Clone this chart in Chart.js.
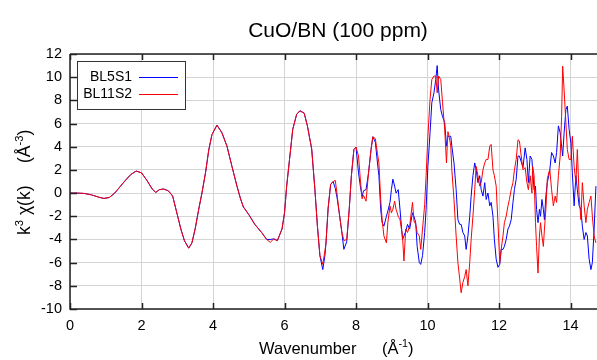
<!DOCTYPE html>
<html lang="en">
<head>
<meta charset="UTF-8">
<title>CuO/BN (100 ppm)</title>
<script src="https://cdn.jsdelivr.net/npm/chart.js@4.4.1/dist/chart.umd.min.js"></script>
<style>
  html, body { margin: 0; padding: 0; background: #fff; }
  #wrap { width: 597px; height: 360px; }
</style>
</head>
<body>
<div id="wrap"><canvas id="myChart" width="597" height="360"></canvas></div>
<script>
// wavenumber k (1/A)
var kValues = [
  0, 0.2, 0.4, 0.6, 0.8, 0.95, 1.1, 1.25, 1.4, 1.55, 1.7, 1.85, 2.0, 2.15, 2.3, 2.4, 2.5, 2.62, 2.75, 2.87,
  3.0, 3.1, 3.2, 3.32, 3.41, 3.5, 3.6, 3.69, 3.79, 3.88, 3.97, 4.11, 4.25, 4.39, 4.53, 4.67, 4.77, 4.85, 5.0, 5.17,
  5.36, 5.5, 5.6, 5.7, 5.8, 5.93, 6.0, 6.06, 6.14, 6.23, 6.34, 6.43, 6.55, 6.64, 6.76, 6.85, 6.92, 6.99, 7.07, 7.13,
  7.16, 7.22, 7.29, 7.36, 7.42, 7.47, 7.53, 7.6, 7.66, 7.74, 7.81, 7.87, 7.94, 8.0, 8.07, 8.12, 8.17, 8.21, 8.28, 8.35,
  8.42, 8.47, 8.54, 8.6, 8.64, 8.69, 8.73, 8.78, 8.85, 8.89, 8.95, 8.99, 9.03, 9.08, 9.12, 9.18, 9.23, 9.3, 9.34, 9.39,
  9.44, 9.5, 9.58, 9.62, 9.67, 9.71, 9.77, 9.81, 9.86, 9.92, 9.96, 10.01, 10.07, 10.12, 10.18, 10.23, 10.27, 10.31, 10.37, 10.42,
  10.48, 10.53, 10.57, 10.61, 10.65, 10.68, 10.74, 10.8, 10.85, 10.9, 10.94, 10.99, 11.04, 11.08, 11.13, 11.18, 11.22, 11.27, 11.32, 11.36,
  11.41, 11.46, 11.5, 11.55, 11.6, 11.64, 11.69, 11.74, 11.78, 11.83, 11.87, 11.92, 11.97, 12.02, 12.06, 12.11, 12.15, 12.2, 12.25, 12.29,
  12.34, 12.39, 12.43, 12.48, 12.53, 12.57, 12.62, 12.67, 12.73, 12.78, 12.82, 12.87, 12.92, 12.94, 12.98, 13.02, 13.05, 13.09, 13.13, 13.16,
  13.2, 13.24, 13.27, 13.31, 13.35, 13.39, 13.42, 13.47, 13.52, 13.57, 13.61, 13.66, 13.71, 13.75, 13.78, 13.82, 13.87, 13.91, 13.96, 14.01,
  14.05, 14.1, 14.15, 14.19, 14.24, 14.29, 14.33, 14.38, 14.43, 14.47, 14.52, 14.57, 14.61, 14.66, 14.71
];

// k^3 chi(k), blue series
var bl5s1 = [
  0, 0, -0.03, -0.15, -0.35, -0.46, -0.38, 0.0, 0.55, 1.1, 1.6, 1.9, 1.75, 1.1, 0.35, 0.06, 0.3, 0.35, 0.2, -0.25,
  -1.85, -3.1, -4.1, -4.75, -4.3, -3.1, -1.4, 0.0, 1.75, 3.7, 5.05, 5.86, 5.2, 4.05, 2.3, 0.6, -0.5, -1.2, -1.85, -2.7,
  -3.4, -4.0, -4.0, -3.95, -4.1, -3.1, -1.7, 0.6, 2.9, 5.5, 6.8, 7.1, 6.9, 5.8, 3.8, 0.3, -2.85, -5.4, -6.6, -5.4,
  -4.3, -1.3, 0.75, 1.0, 0.4, -0.4, -1.7, -3.3, -4.85, -4.2, -1.4, 1.5, 3.76, 3.97, 1.75, 0.6, -0.3, 0.2, 0.3, 1.75,
  3.76, 4.86, 4.4, 2.6, 1.5, -1.4, -2.55, -2.85, -2.0, -1.55, -0.8, 0.3, 1.2, 0.6, 0.0, 0.3, -1.4, -4.0, -3.7, -3.3,
  -2.7, -3.1, -1.7, -2.0, -2.55, -4.6, -6.0, -6.15, -5.4, -3.4, -1.4, 2.3, 5.2, 7.8, 8.65, 9.8, 11.0, 8.9, 7.2, 6.6,
  6.1, 4.05, 4.9, 4.9, 4.9, 4.05, 2.6, 0.3, -2.3, -2.7, -2.7, -3.4, -3.7, -4.86, -3.7, -2.0, -0.26, 1.5, 2.6, 2.0,
  0.9, 1.5, 0.3, -0.26, 0.9, -0.55, 0.0, -1.1, -0.8, -2.0, -4.0, -5.7, -6.4, -6.15, -4.86, -4.86, -4.6, -4.0, -3.1, -2.85,
  -2.3, -0.8, 0.3, 1.2, 3.2, 3.2, 2.7, 2.2, 3.9, 2.9, 0.9, 3.2, 2.9, 2.0, 0.3, 0.6, -1.4, -2.55, -1.4, -2.0,
  -0.55, -1.4, -2.3, -0.26, 0.9, 1.5, 2.0, 3.5, 3.2, 2.6, 3.5, 5.8, 5.2, 4.05, 3.2, 5.2, 7.2, 7.5, 5.5, 4.3,
  1.75, -1.1, 1.5, 0.3, -1.1, -1.4, -2.85, -4.0, -3.4, -3.7, -5.7, -6.6, -6.0, -3.1, 0.6
];

// k^3 chi(k), red series
var bl11s2 = [
  0, 0, -0.03, -0.15, -0.35, -0.46, -0.38, 0.0, 0.55, 1.1, 1.6, 1.9, 1.75, 1.1, 0.35, 0.06, 0.3, 0.35, 0.2, -0.25,
  -1.85, -3.1, -4.1, -4.75, -4.3, -3.1, -1.4, 0.0, 1.75, 3.7, 5.05, 5.86, 5.2, 4.05, 2.3, 0.6, -0.5, -1.2, -1.85, -2.7,
  -3.4, -4.0, -4.25, -3.95, -4.1, -3.1, -1.7, 0.6, 2.9, 5.5, 6.8, 7.1, 6.9, 5.8, 3.8, 0.3, -2.85, -5.4, -6.15, -5.0,
  -4.3, -1.3, 0.75, 1.0, 1.1, -0.1, -1.7, -3.3, -4.1, -4.0, -1.4, 1.5, 3.76, 3.97, 3.2, 1.2, -0.5, -0.2, -0.7, 1.75,
  3.76, 4.86, 4.7, 3.4, 2.6, -0.55, -2.3, -3.7, -4.3, -2.55, -1.1, -1.7, -1.4, -0.7, -1.4, -2.0, -2.3, -3.7, -5.86, -3.1,
  -3.4, -2.85, -0.8, -2.4, -2.7, -3.4, -3.7, -4.86, -3.1, -1.0, 1.5, 4.9, 8.07, 9.8, 10.1, 10.1, 8.65, 10.1, 9.8, 7.8,
  5.5, 2.6, 5.3, 4.8, 4.05, 2.0, -0.55, -3.7, -6.0, -7.4, -8.6, -7.7, -7.2, -6.6, -8.0, -6.0, -4.0, -2.0, 0.3, 2.3,
  1.5, 0.6, 0.9, 2.0, 2.6, 2.9, 2.9, 4.05, 4.2, 2.0, 1.5, 0.6, -2.55, -6.0, -4.86, -3.7, -2.55, -2.0, -1.1, -0.55,
  0.3, 0.9, 2.0, 2.9, 4.6, 4.5, 3.2, 2.0, 2.2, 0.9, 0.3, 1.5, 0.0, 2.3, 1.5, -2.55, -4.6, -6.9, -3.7, -2.55,
  -3.7, -4.6, -3.1, -1.4, 1.2, 1.75, 2.0, 0.3, -1.1, -0.26, -0.8, 1.5, 3.2, 6.6, 10.95, 8.9, 6.06, 3.76, 2.9, 2.9,
  4.9, 2.3, 0.9, 3.76, -0.26, -2.3, 0.9, -1.1, -2.55, -1.4, -0.8, -0.26, -2.0, -3.7, -4.3
];

var xTicks = [0, 2, 4, 6, 8, 10, 12, 14];
var yTicks = [-10, -8, -6, -4, -2, 0, 2, 4, 6, 8, 10, 12];

var FONT = "'Liberation Sans', Arial, sans-serif";

function toPoints(vals) {
    return kValues.map(function (k, i) { return { x: k, y: vals[i] }; });
}

// draw a run of text pieces, some of them raised as superscripts
function drawRun(ctx, parts, x, y, size) {
    for (var i = 0; i < parts.length; i++) {
        var p = parts[i];
        var s = p.sup ? size * 0.65 : size;
        ctx.font = s + 'px ' + FONT;
        ctx.fillText(p.t, x, p.sup ? y - size * 0.42 : y);
        x += ctx.measureText(p.t).width;
    }
}

var decorations = {
    id: 'decorations',
    afterDraw: function (chart) {
        var ctx = chart.ctx;
        var a = chart.chartArea;
        var xs = chart.scales.x, ys = chart.scales.y;
        ctx.save();

        // frame and inward tick marks
        ctx.strokeStyle = '#222';
        ctx.lineWidth = 1.5;
        ctx.beginPath();
        ctx.moveTo(a.left, a.top); ctx.lineTo(a.right, a.top);
        ctx.moveTo(a.left, a.top); ctx.lineTo(a.left, a.bottom); ctx.lineTo(a.right, a.bottom);
        xTicks.forEach(function (v) {
            var px = Math.round(xs.getPixelForValue(v)) + 0.5;
            ctx.moveTo(px, a.bottom); ctx.lineTo(px, a.bottom - 6);
            ctx.moveTo(px, a.top); ctx.lineTo(px, a.top + 6);
        });
        yTicks.forEach(function (v) {
            var py = Math.round(ys.getPixelForValue(v)) + 0.5;
            ctx.moveTo(a.left, py); ctx.lineTo(a.left + 7, py);
        });
        ctx.stroke();

        // legend box
        ctx.fillStyle = '#fff';
        ctx.fillRect(77.5, 61.5, 108, 48);
        ctx.strokeStyle = '#333';
        ctx.lineWidth = 1;
        ctx.strokeRect(77.5, 61.5, 108, 48);
        ctx.font = '14px ' + FONT;
        ctx.fillStyle = '#000';
        ctx.textAlign = 'right';
        ctx.textBaseline = 'middle';
        ctx.fillText('BL5S1', 132, 77);
        ctx.fillText('BL11S2', 132, 94);
        ctx.lineWidth = 1.2;
        ctx.strokeStyle = '#0000ff';
        ctx.beginPath(); ctx.moveTo(139, 77.5); ctx.lineTo(178, 77.5); ctx.stroke();
        ctx.strokeStyle = '#ff0000';
        ctx.beginPath(); ctx.moveTo(139, 94.5); ctx.lineTo(178, 94.5); ctx.stroke();

        // title
        ctx.textAlign = 'center';
        ctx.textBaseline = 'alphabetic';
        ctx.font = '21px ' + FONT;
        ctx.fillText('CuO/BN (100 ppm)', 338, 37);

        // x axis title
        ctx.textAlign = 'left';
        drawRun(ctx, [{ t: 'Wavenumber' }], 259, 354, 16.5);
        drawRun(ctx, [{ t: '(Å' }, { t: '-1', sup: true }, { t: ')' }], 382, 354, 16.5);

        // y axis title
        ctx.translate(30, 0);
        ctx.rotate(-Math.PI / 2);
        drawRun(ctx, [{ t: 'k' }, { t: '3', sup: true }, { t: ' χ(k)' }], -235, 0, 17.5);
        drawRun(ctx, [{ t: '(Å' }, { t: '-3', sup: true }, { t: ')' }], -163, 0, 17.5);
        ctx.restore();
    }
};

var ctx = document.getElementById('myChart').getContext('2d');
var myChart = new Chart(ctx, {
    type: 'line',
    data: {
        datasets: [
            {
                label: 'BL5S1',
                data: toPoints(bl5s1),
                borderColor: '#0000ff',
                borderWidth: 1,
                pointRadius: 0,
                tension: 0,
                order: 1
            },
            {
                label: 'BL11S2',
                data: toPoints(bl11s2),
                borderColor: '#ff0000',
                borderWidth: 1,
                pointRadius: 0,
                tension: 0,
                order: 0
            }
        ]
    },
    options: {
        responsive: false,
        animation: false,
        layout: { padding: { top: 54, right: 0, bottom: 0, left: 0 } },
        plugins: {
            legend: { display: false },
            tooltip: { enabled: false }
        },
        scales: {
            x: {
                type: 'linear',
                min: 0,
                max: 14.74,
                afterBuildTicks: function (s) { s.ticks = xTicks.map(function (v) { return { value: v }; }); },
                afterFit: function (s) { s.height = 51; },
                ticks: { color: '#000', font: { family: FONT, size: 14.5 }, padding: 8, maxRotation: 0 },
                grid: { color: '#d4d4d4', lineWidth: 1, drawTicks: false },
                border: { display: false }
            },
            y: {
                min: -10,
                max: 12,
                afterBuildTicks: function (s) { s.ticks = yTicks.map(function (v) { return { value: v }; }); },
                afterFit: function (s) { s.width = 70; },
                ticks: { color: '#000', font: { family: FONT, size: 14.5 }, padding: 8 },
                grid: { color: '#d4d4d4', lineWidth: 1, drawTicks: false },
                border: { display: false }
            }
        }
    },
    plugins: [decorations]
});
</script>
</body>
</html>
